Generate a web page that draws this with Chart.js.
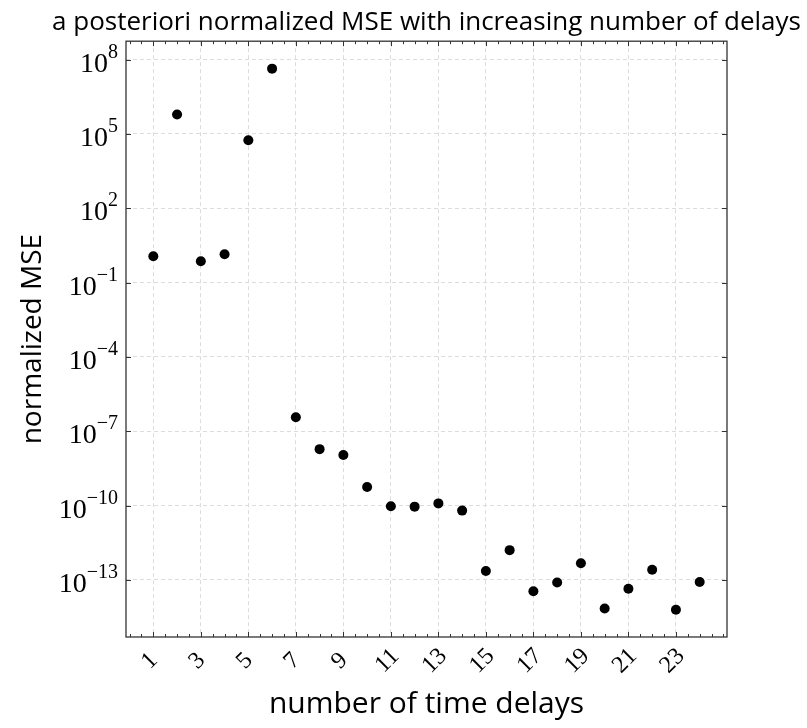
<!DOCTYPE html>
<html>
<head>
<meta charset="utf-8">
<title>a posteriori normalized MSE</title>
<script src="https://cdn.jsdelivr.net/npm/chart.js@4.4.1/dist/chart.umd.min.js"></script>
<style>
  html, body { margin: 0; padding: 0; background: #fff; }
  #wrap { width: 807px; height: 728px; }
</style>
</head>
<body>
<div id="wrap"><canvas id="mseChart"></canvas></div>
<script>
// values (log scale)
const delays = [1, 2, 3, 4, 5, 6, 7, 8, 9, 10, 11, 12, 13, 14, 15, 16, 17, 18, 19, 20, 21, 22, 23, 24];
const mse = [1.16, 6.1e5, 0.73, 1.4, 5.5e4, 4.3e7, 3.7e-7, 1.9e-8, 1.1e-8, 5.6e-10, 9.5e-11, 9.1e-11,
             1.23e-10, 6.3e-11, 2.3e-13, 1.6e-12, 3.5e-14, 7.9e-14, 4.7e-13, 7.1e-15, 4.4e-14, 2.6e-13, 6.3e-15, 8.3e-14];

const xTicks = [1, 3, 5, 7, 9, 11, 13, 15, 17, 19, 21, 23];
const xTickLabels = ["1", "3", "5", "7", "9", "11", "13", "15", "17", "19", "21", "23"];
const yTickExps = [8, 5, 2, -1, -4, -7, -10, -13];
const yTickSup = ["8", "5", "2", "\u22121", "\u22124", "\u22127", "\u221210", "\u221213"];

const xMin = -0.15, xMax = 25.15;
const yMin = 5.0e-16, yMax = 5.5e8;

const serif = '"Liberation Serif", "DejaVu Serif", serif';
const sans = '"Open Sans", "Noto Sans", sans-serif';

// frame, inward tick marks and the tick labels (10^n needs a superscript)
const frameTicks = {
    id: "frameTicks",
    afterDraw(chart) {
        const { ctx, chartArea: a, scales: { x, y } } = chart;
        ctx.save();
        ctx.strokeStyle = "#333";
        ctx.lineWidth = 1;
        ctx.beginPath();
        for (let v = 0; v <= 25; v += 0.5) {
            const px = Math.round(x.getPixelForValue(v)) + 0.5;
            const len = xTicks.includes(v) ? 5 : 3;
            ctx.moveTo(px, a.bottom);
            ctx.lineTo(px, a.bottom - len);
            ctx.moveTo(px, a.top);
            ctx.lineTo(px, a.top + len);
        }
        yTickExps.forEach((e) => {
            const py = Math.round(y.getPixelForValue(Math.pow(10, e))) + 0.5;
            ctx.moveTo(a.left, py);
            ctx.lineTo(a.left + 5, py);
            ctx.moveTo(a.right, py);
            ctx.lineTo(a.right - 5, py);
        });
        ctx.stroke();

        ctx.lineWidth = 1.3;
        ctx.strokeRect(a.left, a.top, a.right - a.left, a.bottom - a.top);

        ctx.fillStyle = "#000";
        ctx.textBaseline = "alphabetic";
        ctx.textAlign = "left";
        yTickExps.forEach((e, i) => {
            const py = y.getPixelForValue(Math.pow(10, e));
            ctx.font = "20px " + serif;
            const ew = ctx.measureText(yTickSup[i]).width;
            ctx.font = "28px " + serif;
            const bw = ctx.measureText("10").width;
            const xr = a.left - 8;
            ctx.fillText("10", xr - ew - bw, py + 12);
            ctx.font = "20px " + serif;
            ctx.fillText(yTickSup[i], xr - ew, py - 2);
        });

        // rotated x labels, centred under their tick
        ctx.font = "24px " + serif;
        ctx.textAlign = "center";
        ctx.textBaseline = "middle";
        xTicks.forEach((v, i) => {
            const px = x.getPixelForValue(v);
            ctx.save();
            ctx.translate(px - 3.5, a.bottom + 24);
            ctx.rotate(-Math.PI / 4);
            ctx.fillText(xTickLabels[i], 0, 0);
            ctx.restore();
        });
        ctx.restore();
    }
};

const points = delays.map((d, i) => ({ x: d, y: mse[i] }));

const mseChart = new Chart(document.getElementById("mseChart"), {
    type: "scatter",
    data: {
        datasets: [{
            data: points,
            backgroundColor: "#000",
            borderWidth: 0,
            pointRadius: 5,
            pointHoverRadius: 5
        }]
    },
    options: {
        responsive: true,
        maintainAspectRatio: false,
        animation: false,
        layout: { padding: { left: 46, right: 0, top: 0, bottom: 0 } },
        plugins: {
            legend: { display: false },
            tooltip: { enabled: false },
            title: {
                display: true,
                text: "a posteriori normalized MSE with increasing number of delays",
                color: "#000",
                font: { family: sans, size: 26, weight: "normal" },
                padding: { top: 7, bottom: 3 }
            }
        },
        scales: {
            x: {
                type: "linear",
                min: xMin,
                max: xMax,
                afterBuildTicks: (s) => { s.ticks = xTicks.map((v) => ({ value: v })); },
                afterFit: (s) => { s.height = 91; },
                ticks: { display: false },
                grid: { color: "#dcdcdc", lineWidth: 1, drawTicks: false },
                border: { display: false, dash: [4, 3] },
                title: {
                    display: true,
                    text: "number of time delays",
                    color: "#000",
                    font: { family: sans, size: 30, weight: "normal" },
                    padding: { top: 0, bottom: 6 }
                }
            },
            y: {
                type: "logarithmic",
                min: yMin,
                max: yMax,
                afterBuildTicks: (s) => { s.ticks = yTickExps.map((e) => ({ value: Math.pow(10, e) })); },
                afterFit: (s) => { s.width = 80; },
                ticks: { display: false },
                grid: { color: "#dcdcdc", lineWidth: 1, drawTicks: false },
                border: { display: false, dash: [4, 3] },
                title: {
                    display: true,
                    text: "normalized MSE",
                    color: "#000",
                    font: { family: sans, size: 28, weight: "normal" },
                    padding: { top: -30, bottom: 0 }
                }
            },
            // empty axis that only keeps the right margin
            yRight: {
                type: "linear",
                position: "right",
                afterFit: (s) => { s.width = 80; },
                ticks: { display: false },
                grid: { display: false },
                border: { display: false }
            }
        }
    },
    plugins: [frameTicks]
});
</script>
</body>
</html>
